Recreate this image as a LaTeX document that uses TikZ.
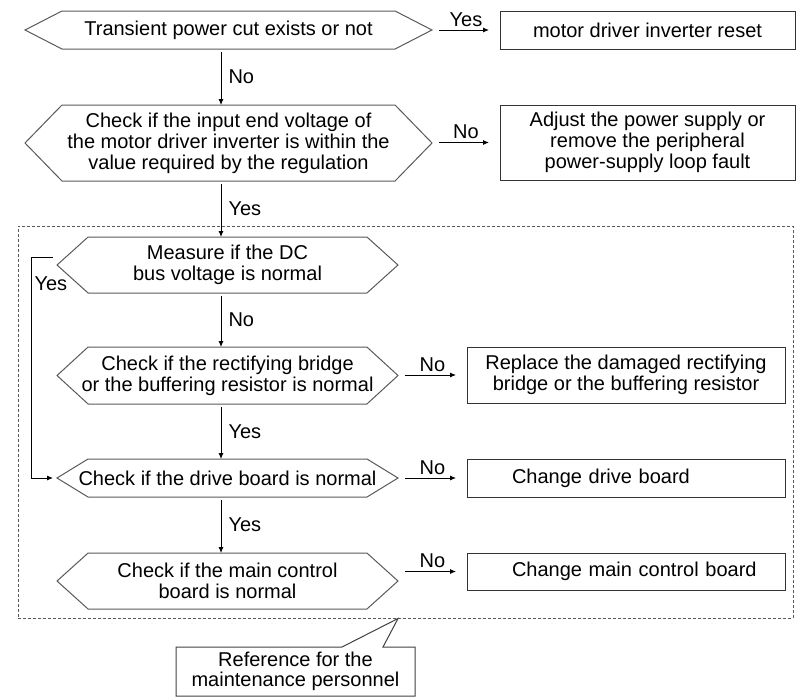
\documentclass[tikz,border=0pt]{standalone}
\usepackage{fontspec}
\setmainfont{Liberation Sans}
\usetikzlibrary{positioning, arrows.meta, shapes.symbols}
\tikzset{
    basebox/.style  = {draw=black!80, line width=0.5pt, align=center, inner sep=0pt,
                       outer sep=0pt, font=\fontsize{10}{10.5}\selectfont},
    decide/.style   = {basebox, draw=black!65, shape=signal, signal to=west and east,
                       signal pointer angle=#1, minimum width=170.5pt, inner xsep=-12pt},
    action/.style   = {basebox, rectangle, minimum width=147.5pt},
    actionl/.style  = {basebox, rectangle, minimum width=159pt, text width=137pt,
                       inner xsep=11pt, align=left,
                       execute at begin node={\hspace*{11.5pt}}},
    dashframe/.style= {draw=black!65, line width=0.5pt, dash pattern=on 1.5pt off 1pt,
                       inner sep=0pt},
    link/.style     = {-{Latex[length=3pt, width=2.6pt]}, line width=0.5pt},
    side/.style     = {link, shorten <=3.5pt, shorten >=5.5pt},
    lbl/.style      = {font=\fontsize{10}{10}\selectfont, inner sep=1.5pt}
}

\begin{document}
\begin{tikzpicture}[x=0.5pt, y=-0.5pt]
    \useasboundingbox (0,0) rectangle (796,697);
    \coordinate (spine) at (221,0);
    \coordinate (loopx) at (31,0);

    % checks
    \node[decide=54.4, minimum width=203.5pt, minimum height=19pt] (q1) at (228.5,30)
        {Transient power cut exists or not};
    \node[decide=91.6, minimum width=203.5pt, minimum height=38pt] (q2) at (228.5,143)
        {Check if the input end voltage of\\the motor driver inverter is within the\\value required by the regulation};
    \node[decide=84, minimum height=28pt] (q3) at (227.5,265)
        {Measure if the DC\\bus voltage is normal};
    \node[decide=85, minimum height=28.5pt] (q4) at (227.5,375.5)
        {Check if the rectifying bridge\\or the buffering resistor is normal};
    \node[decide=63, minimum height=19pt] (q5) at (227.5,478)
        {Check if the drive board is normal};
    \node[decide=84, minimum height=28pt] (q6) at (227.5,581)
        {Check if the main control\\board is normal};

    % measures
    \node[action, minimum height=19pt] (a1) at (647.5,30) {motor driver inverter reset};
    \node[action, minimum height=37.5pt] (a2) at (647.5,142.5)
        {Adjust the power supply or\\remove the peripheral\\power-supply loop fault};
    \node[action, minimum width=159pt, minimum height=28pt] (a4) at (626,375)
        {Replace the damaged rectifying\\bridge or the buffering resistor};
    \node[actionl, minimum height=19pt] (a5) at (626,478) {Change drive board};
    \node[actionl, minimum height=18.5pt] (a6) at (626,571.5) {Change main control board};

    % dashed area and note
    \node[dashframe, minimum width=387.5pt, minimum height=196pt] (hull) at (405.5,422) {};
    \node[lbl, align=center, minimum width=119.5pt, minimum height=24.5pt, outer sep=0pt]
        (note) at (295.5,671.5) {Reference for the\\maintenance personnel};
    \draw[draw=black!75, line width=0.5pt] ([xshift=23.25pt]note.north)
        -- ([xshift=51.25pt]note.north |- hull.south) -- ([xshift=43.75pt]note.north)
        -- (note.north east) -- (note.south east) -- (note.south west)
        -- (note.north west) -- cycle;

    % main flow
    \draw[link, shorten <=1.5pt] (q1.south -| spine) -- node[lbl, right=2pt] {No} (q2.north -| spine);
    \draw[link, shorten <=1.5pt] (q2.south -| spine) -- node[lbl, right=2pt] {Yes} (q3.north -| spine);
    \draw[link, shorten <=1.5pt] (q3.south -| spine) -- node[lbl, right=2pt] {No} (q4.north -| spine);
    \draw[link, shorten <=1.5pt] (q4.south -| spine) -- node[lbl, right=2pt] {Yes} (q5.north -| spine);
    \draw[link, shorten <=1.5pt] (q5.south -| spine) -- node[lbl, right=2pt] {Yes} (q6.north -| spine);

    % side branches
    \draw[side] (q1.east |- a1.west) -- node[lbl, above] {Yes} (a1.west);
    \draw[side] (q2.east |- a2.west) -- node[lbl, above] {No} (a2.west);
    \draw[side] (q4.east |- a4.west) -- node[lbl, above] {No} (a4.west);
    \draw[side] (q5.east |- a5.west) -- node[lbl, above] {No} (a5.west);
    \draw[side] (q6.east |- a6.west) -- node[lbl, above] {No} (a6.west);

    % bypass
    \draw[link, shorten >=2pt] ([xshift=-2pt, yshift=4pt]q3.west)
        -- ([yshift=4pt]q3.west -| loopx)
        |- node[lbl, pos=0.06, right] {Yes} (q5.west);
\end{tikzpicture}
\end{document}
